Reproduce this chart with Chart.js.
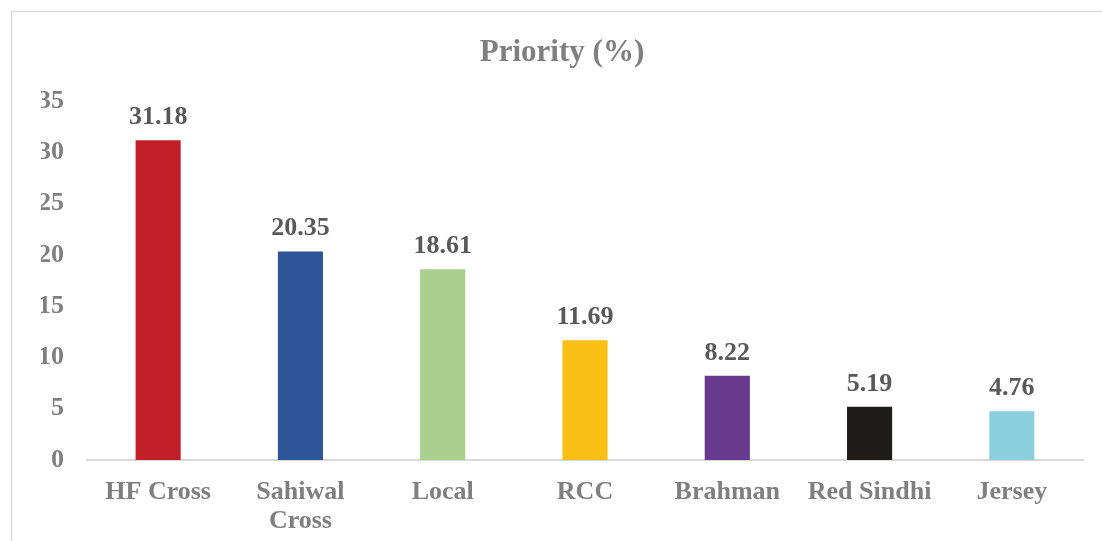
<!DOCTYPE html>
<html>
<head>
<meta charset="utf-8">
<script src="https://cdn.jsdelivr.net/npm/chart.js@4.4.0/dist/chart.umd.min.js"></script>
<style>
    html, body { margin: 0; padding: 0; background: #ffffff; }
    #wrap { position: relative; width: 1102px; height: 541px; }
</style>
</head>
<body>
<div id="wrap"><canvas id="priorityChart" width="1102" height="541"></canvas></div>
<script>
const breeds = ['HF Cross', ['Sahiwal', 'Cross'], 'Local', 'RCC', 'Brahman', 'Red Sindhi', 'Jersey'];
const priority = [31.18, 20.35, 18.61, 11.69, 8.22, 5.19, 4.76];
const barColors = ['#c01f28', '#2e5597', '#a9cf8e', '#f9bf15', '#673a8e', '#1e1d1b', '#8bcfde'];
const yTicks = [0, 5, 10, 15, 20, 25, 30, 35];

const serif = "'Liberation Serif', 'Times New Roman', serif";

// frame lines of the chart box (top + left only are visible)
const frame = {
    id: 'frame',
    beforeDraw(chart) {
        const c = chart.ctx;
        c.save();
        c.strokeStyle = '#dcdcdc';
        c.lineWidth = 1.5;
        c.beginPath();
        c.moveTo(11.5, 541);
        c.lineTo(11.5, 11.5);
        c.lineTo(1102, 11.5);
        c.stroke();
        c.restore();
    }
};

// value labels above each bar
const valueLabels = {
    id: 'valueLabels',
    afterDatasetsDraw(chart) {
        const c = chart.ctx;
        const meta = chart.getDatasetMeta(0);
        c.save();
        c.font = "bold 26px " + serif;
        c.fillStyle = '#595959';
        c.textAlign = 'center';
        c.textBaseline = 'alphabetic';
        meta.data.forEach((bar, i) => {
            c.fillText(priority[i].toFixed(2), bar.x, bar.y - 16);
        });
        c.restore();
    }
};

let ctx = document.getElementById('priorityChart').getContext('2d');
let priorityChart = new Chart(ctx, {
    type: 'bar',
    data: {
        labels: breeds,
        datasets: [{
            label: 'Priority (%)',
            data: priority,
            backgroundColor: barColors,
            borderWidth: 0,
            categoryPercentage: 1.0,
            barPercentage: 0.317
        }]
    },
    options: {
        responsive: false,
        animation: false,
        layout: { padding: { left: 41, right: 19, top: 0, bottom: 0 } },
        plugins: {
            legend: { display: false },
            tooltip: { enabled: false },
            title: {
                display: true,
                text: 'Priority (%)',
                color: '#7f7f7f',
                font: { family: serif, size: 31, weight: 'bold' },
                padding: { top: 34, bottom: 30 }
            }
        },
        scales: {
            x: {
                afterFit(scale) { scale.height = 81; },
                grid: { display: false, drawTicks: false },
                border: { display: true, color: '#d9d9d9', width: 2 },
                ticks: {
                    color: '#7f7f7f',
                    font: { family: serif, size: 26, weight: 'bold', lineHeight: 1.12 },
                    padding: 18,
                    maxRotation: 0,
                    autoSkip: false
                }
            },
            y: {
                min: 0,
                max: 35,
                afterFit(scale) { scale.width = 46; },
                afterBuildTicks(scale) { scale.ticks = yTicks.map(v => ({ value: v })); },
                grid: { display: false, drawTicks: false },
                border: { display: false },
                ticks: {
                    color: '#7f7f7f',
                    font: { family: serif, size: 26, weight: 'bold' },
                    padding: 23
                }
            }
        }
    },
    plugins: [frame, valueLabels]
});
</script>
</body>
</html>
